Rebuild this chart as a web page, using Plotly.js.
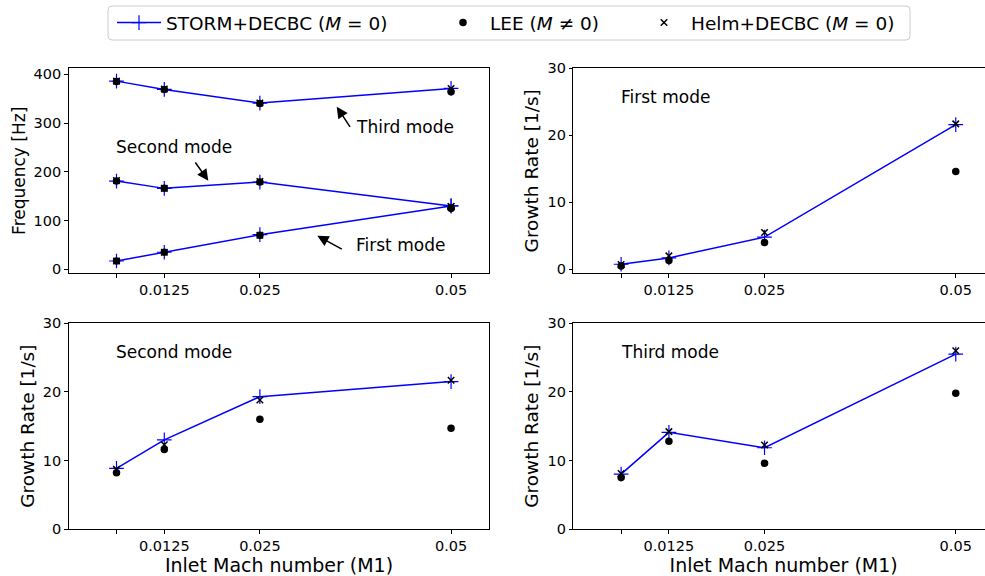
<!DOCTYPE html>
<html><head><meta charset="utf-8">
<script src="https://cdn.plot.ly/plotly-3.0.1.min.js"></script>
<style>html,body{margin:0;padding:0;overflow:hidden;background:#fff}#chart{width:995px;height:576px}</style>
</head><body><div id="chart"></div><script>
// ---- data ----
const mach = [0.00625, 0.0125, 0.025, 0.05];
const machTickLabels = ['', '0.0125', '0.025', '0.05'];
const freqTicks = [0, 100, 200, 300, 400];
const growthTicks = [0, 10, 20, 30];

// Frequency [Hz]
const freqStorm1 = [17, 35, 71, 130];
const freqStorm2 = [181, 166, 179, 130];
const freqStorm3 = [386, 369, 341, 371];
const freqLee1 = [17, 35, 70, 125];
const freqLee2 = [181, 166, 179, 125];
const freqLee3 = [385, 369, 340, 364];
const freqHelm1 = [17, 35, 70, 129];
const freqHelm2 = [182, 166, 180, 129];
const freqHelm3 = [386, 370, 341, 371];

// Growth rate [1/s]
const gr1Storm = [0.75, 1.7, 4.8, 21.6];
const gr1Lee = [0.5, 1.3, 4.0, 14.6];
const gr1Helm = [0.7, 2.0, 5.5, 21.7];
const gr2Storm = [8.85, 13.0, 19.3, 21.5];
const gr2Lee = [8.2, 11.6, 16.0, 14.7];
const gr2Helm = [8.7, 12.3, 18.8, 21.7];
const gr3Storm = [8.0, 14.1, 11.85, 25.5];
const gr3Lee = [7.5, 12.8, 9.6, 19.8];
const gr3Helm = [8.1, 14.2, 12.25, 26.0];

const nameStorm = 'STORM+DECBC (<i>M</i> = 0)';
const nameLee = 'LEE (<i>M</i> ≠ 0)';
const nameHelm = 'Helm+DECBC (<i>M</i> = 0)';

// ---- styling helpers ----
const W = 995, H = 576;
const px = v => v / W;
const py = v => 1 - v / H;
const FONT = 'DejaVu Sans, Liberation Sans, sans-serif';

function storm(x, y, xa, ya, show) {
  return {x: x, y: y, xaxis: xa, yaxis: ya, type: 'scatter', mode: 'lines+markers',
    name: nameStorm, legendgroup: 'storm', legend: 'legend', showlegend: show,
    line: {color: '#0000ff', width: 1.5},
    marker: {symbol: 'cross-thin-open', size: 10.5, color: '#0000ff', line: {color: '#0000ff', width: 1.2}}};
}
function lee(x, y, xa, ya, show) {
  return {x: x, y: y, xaxis: xa, yaxis: ya, type: 'scatter', mode: 'markers',
    name: nameLee, legendgroup: 'lee', legend: 'legend2', showlegend: show,
    marker: {symbol: 'circle', size: 7.5, color: '#000000'}};
}
function helm(x, y, xa, ya, show) {
  return {x: x, y: y, xaxis: xa, yaxis: ya, type: 'scatter', mode: 'markers',
    name: nameHelm, legendgroup: 'helm', legend: 'legend3', showlegend: show,
    marker: {symbol: 'x-thin-open', size: 6.5, color: '#000000', line: {color: '#000000', width: 1.5}}};
}

const traces = [
  storm(mach, freqStorm3, 'x', 'y', true),
  storm(mach, freqStorm2, 'x', 'y', false),
  storm(mach, freqStorm1, 'x', 'y', false),
  storm(mach, gr1Storm, 'x2', 'y2', false),
  storm(mach, gr2Storm, 'x3', 'y3', false),
  storm(mach, gr3Storm, 'x4', 'y4', false),
  lee(mach, freqLee3, 'x', 'y', true),
  lee(mach, freqLee2, 'x', 'y', false),
  lee(mach, freqLee1, 'x', 'y', false),
  lee(mach, gr1Lee, 'x2', 'y2', false),
  lee(mach, gr2Lee, 'x3', 'y3', false),
  lee(mach, gr3Lee, 'x4', 'y4', false),
  helm(mach, freqHelm3, 'x', 'y', true),
  helm(mach, freqHelm2, 'x', 'y', false),
  helm(mach, freqHelm1, 'x', 'y', false),
  helm(mach, gr1Helm, 'x2', 'y2', false),
  helm(mach, gr2Helm, 'x3', 'y3', false),
  helm(mach, gr3Helm, 'x4', 'y4', false)
];

const axBase = {
  ticks: 'outside', ticklen: 3.5, tickwidth: 1, tickcolor: '#000',
  showline: true, mirror: true, linecolor: '#000', linewidth: 1,
  showgrid: false, zeroline: false, automargin: false,
  tickfont: {family: FONT, size: 14.5, color: '#000'}
};
function xax(dom, anchor, withTitle) {
  const a = Object.assign({}, axBase, {domain: dom, anchor: anchor, range: [0, 0.055],
    tickmode: 'array', tickvals: mach, ticktext: machTickLabels});
  if (withTitle) a.title = {text: 'Inlet Mach number (M1)', font: {family: FONT, size: 19, color: '#000'}, standoff: 6};
  return a;
}
function yax(dom, anchor, range, tv, title, fs) {
  return Object.assign({}, axBase, {domain: dom, anchor: anchor, range: range,
    tickmode: 'array', tickvals: tv,
    title: {text: title, font: {family: FONT, size: fs, color: '#000'}, standoff: 3}});
}

const xL = [px(68.7), px(489.3)], xR = [px(573.3), px(994)];
const yT = [py(273.3), py(68.3)], yB = [py(529), py(323.3)];

function rr(x0, y0, x1, y1, r) {
  const rx = r / W, ry = r / H;
  const X0 = px(x0), X1 = px(x1), Y0 = py(y0), Y1 = py(y1);
  return `M${X0 + rx},${Y0} L${X1 - rx},${Y0} Q${X1},${Y0} ${X1},${Y0 - ry} L${X1},${Y1 + ry} Q${X1},${Y1} ${X1 - rx},${Y1} L${X0 + rx},${Y1} Q${X0},${Y1} ${X0},${Y1 + ry} L${X0},${Y0 - ry} Q${X0},${Y0} ${X0 + rx},${Y0} Z`;
}

const annFont = {family: FONT, size: 17, color: '#000'};
function label(text, x, y, xr, yr) {
  return {text: text, x: x, y: y, xref: xr, yref: yr, xanchor: 'left', yanchor: 'middle', showarrow: false, font: annFont};
}
function arrow(x, y, ax, ay) {
  return {text: '', x: x, y: y, ax: ax, ay: ay, xref: 'x', yref: 'y', axref: 'x', ayref: 'y',
    showarrow: true, arrowhead: 2, arrowsize: 1.5, arrowwidth: 1.5, arrowcolor: '#000', standoff: 0, startstandoff: 0};
}

const legBase = {orientation: 'h', yanchor: 'middle', xanchor: 'left', y: py(23),
  bgcolor: 'rgba(0,0,0,0)', borderwidth: 0, itemwidth: 44,
  font: {family: FONT, size: 18.5, color: '#000'}};

const layout = {
  width: W, height: H, margin: {l: 0, r: 0, t: 0, b: 0},
  paper_bgcolor: '#fff', plot_bgcolor: '#fff',
  font: {family: FONT, color: '#000'},
  xaxis: xax(xL, 'y', false),
  yaxis: yax(yT, 'x', [-8.2, 412.3], freqTicks, 'Frequency [Hz]', 17),
  xaxis2: xax(xR, 'y2', false),
  yaxis2: yax(yT, 'x2', [-0.6, 30], growthTicks, 'Growth Rate [1/s]', 18.5),
  xaxis3: xax(xL, 'y3', true),
  yaxis3: yax(yB, 'x3', [0, 30], growthTicks, 'Growth Rate [1/s]', 18.5),
  xaxis4: xax(xR, 'y4', true),
  yaxis4: yax(yB, 'x4', [0, 30], growthTicks, 'Growth Rate [1/s]', 18.5),
  legend: Object.assign({}, legBase, {x: px(112)}),
  legend2: Object.assign({}, legBase, {x: px(436)}),
  legend3: Object.assign({}, legBase, {x: px(637)}),
  shapes: [{type: 'path', xref: 'paper', yref: 'paper', path: rr(108, 6, 910, 40, 4),
    line: {color: '#cccccc', width: 1}, fillcolor: 'rgba(255,255,255,0.8)', layer: 'below'}],
  annotations: [
    label('Third mode', 0.03727, 292.5, 'x', 'y'),
    label('Second mode', 0.00596, 250.3, 'x', 'y'),
    label('First mode', 0.03727, 49.8, 'x', 'y'),
    arrow(0.03505, 333.5, 0.03692, 289.2),
    arrow(0.01826, 181.7, 0.01642, 222.2),
    arrow(0.03251, 68.9, 0.03591, 39.6),
    label('First mode', 0.00594, 25.76, 'x2', 'y2'),
    label('Second mode', 0.00589, 25.86, 'x3', 'y3'),
    label('Third mode', 0.00594, 25.86, 'x4', 'y4')
  ]
};

Plotly.newPlot('chart', traces, layout, {displayModeBar: false, staticPlot: true});
</script></body></html>
